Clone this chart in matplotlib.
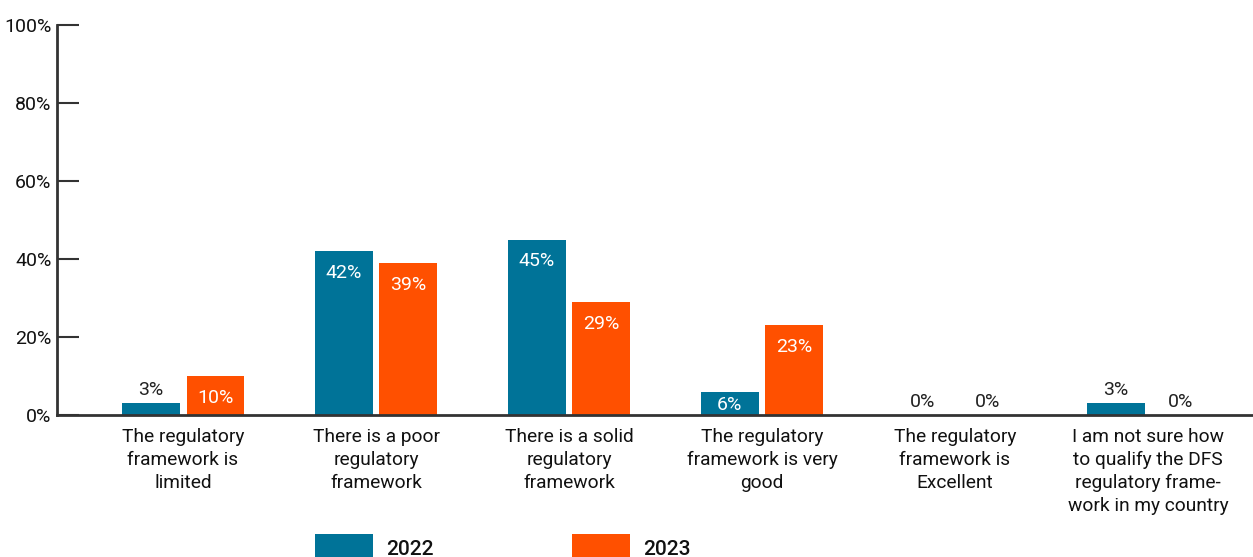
import matplotlib
matplotlib.use("Agg")
import matplotlib.pyplot as plt
from matplotlib.patches import Rectangle
import numpy as np

categories = [
    "The regulatory\nframework is\nlimited",
    "There is a poor\nregulatory\nframework",
    "There is a solid\nregulatory\nframework",
    "The regulatory\nframework is very\ngood",
    "The regulatory\nframework is\nExcellent",
    "I am not sure how\nto qualify the DFS\nregulatory frame-\nwork in my country",
]
series_names = ["2022", "2023"]
values_2022 = [3, 42, 45, 6, 0, 3]
values_2023 = [10, 39, 29, 23, 0, 0]
yticks = [0, 20, 40, 60, 80, 100]
colors = ["#007398", "#FF5000"]

plt.rcParams["font.family"] = ["Roboto", "DejaVu Sans"]

W, H = 1253, 557
PT = 0.72  # points per pixel at dpi 100
fig = plt.figure(figsize=(W / 100, H / 100), dpi=100)
ax_h = 390
ax = fig.add_axes([57 / W, (557 - 415) / H, (W - 57) / W, ax_h / H])

x = np.arange(len(categories))
bw = 0.30
off = 0.168
for vals, col, sgn in [(values_2022, colors[0], -1), (values_2023, colors[1], 1)]:
    ax.bar(x + sgn * off, vals, width=bw, color=col, zorder=2)
    for xi, v in zip(x, vals):
        bar_px = v / 100 * ax_h
        if v >= 5:
            dy = -min(27, bar_px - 5)
            ax.annotate(f"{v}%", (xi + sgn * off, v), xytext=(0, dy * PT), textcoords="offset points",
                        ha="center", va="baseline", color="white", fontsize=14)
        else:
            ax.annotate(f"{v}%", (xi + sgn * off, v), xytext=(0, 8 * PT), textcoords="offset points",
                        ha="center", va="baseline", color="#222222", fontsize=14)

ax.set_xlim(-0.653, 5.544)
ax.set_ylim(0, 100)
ax.set_yticks(yticks)
ax.set_yticklabels([f"{t}%" for t in yticks], fontsize=14, color="#111111")
ax.tick_params(axis="y", direction="in", length=16, width=1.5, color="#333333", pad=4)
ax.set_xticks(x)
ax.set_xticklabels(categories, fontsize=13.8, color="#111111", linespacing=1.37)
ax.tick_params(axis="x", length=0, pad=9)
for s in ["top", "right"]:
    ax.spines[s].set_visible(False)
for s in ["left", "bottom"]:
    ax.spines[s].set_linewidth(2)
    ax.spines[s].set_color("#333333")

# legend
for name, col, x0 in [(series_names[0], colors[0], 315), (series_names[1], colors[1], 572)]:
    fig.patches.append(Rectangle((x0 / W, 0), 58 / W, 23 / H, transform=fig.transFigure,
                                 facecolor=col, edgecolor="none"))
    fig.text((x0 + 71) / W, 2 / H, name, fontsize=15, fontweight="medium",
             color="#111111", ha="left", va="baseline")

fig.savefig("out.png", dpi=100)
